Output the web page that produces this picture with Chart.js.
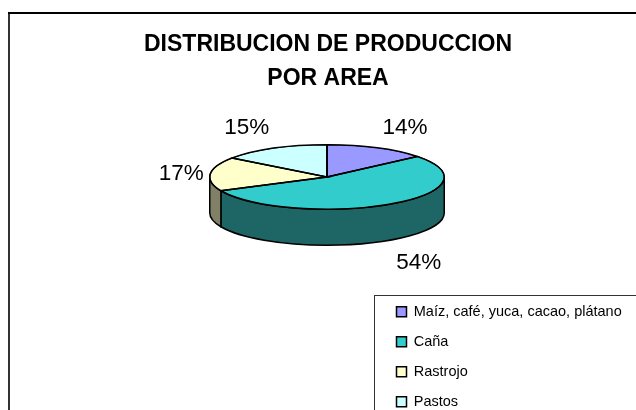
<!DOCTYPE html>
<html>
<head>
<meta charset="utf-8">
<style>
html, body { margin: 0; padding: 0; background: #fff; overflow: hidden; }
canvas { display: block; }
</style>
<script src="https://cdn.jsdelivr.net/npm/chart.js@4"></script>
</head>
<body>
<canvas id="pieChart" width="636" height="410"></canvas>
<script>
const categories = ['Maíz, café, yuca, cacao, plátano', 'Caña', 'Rastrojo', 'Pastos'];
const shares = [14, 54, 17, 15];
const topColors = ['#9999ff', '#33cccc', '#ffffcc', '#ccffff'];
const wallColors = ['#4d4d80', '#1e6666', '#808066', '#668080'];
const titleLines = ['DISTRIBUCION DE PRODUCCION', 'POR AREA'];

// layout of the picture
const squash = 0.275;
const depth = 36;
const centerY = 177;
const labelOffsets = [[28, -20], [29, 59], [-29, 0], [-27, -20]];

// Draws the pie flattened, with a side wall, then the frame and percent labels
const pie3d = {
    id: 'pie3d',
    beforeDatasetsDraw(chart) {
        const ctx = chart.ctx;
        const arcs = chart.getDatasetMeta(0).data;

        // frame, open on the right
        ctx.save();
        ctx.fillStyle = '#333';
        ctx.fillRect(8, 12, 2, 398);
        ctx.fillStyle = '#000';
        ctx.fillRect(8, 12, 628, 2);
        ctx.restore();

        // side wall, only the front half of the ellipse
        ctx.save();
        ctx.translate(0, centerY);
        arcs.forEach((arc, i) => {
            const start = Math.max(arc.startAngle, 0);
            const end = Math.min(arc.endAngle, Math.PI);
            if (end <= start) return;
            ctx.beginPath();
            ctx.ellipse(arc.x, depth, arc.outerRadius, arc.outerRadius * squash, 0, start, end);
            ctx.ellipse(arc.x, 0, arc.outerRadius, arc.outerRadius * squash, 0, end, start, true);
            ctx.closePath();
            ctx.fillStyle = wallColors[i];
            ctx.fill();
            ctx.strokeStyle = '#000';
            ctx.lineWidth = 1.5;
            ctx.stroke();
        });
        ctx.restore();

        ctx.save();
        ctx.translate(0, centerY);
        ctx.scale(1, squash);
        ctx.translate(0, -arcs[0].y);
    },
    afterDatasetsDraw(chart) {
        const ctx = chart.ctx;
        const arcs = chart.getDatasetMeta(0).data;

        // outlines again, path squashed but the pen not
        arcs.forEach(arc => {
            ctx.beginPath();
            ctx.moveTo(arc.x, arc.y);
            ctx.arc(arc.x, arc.y, arc.outerRadius, arc.startAngle, arc.endAngle);
            ctx.closePath();
            ctx.save();
            ctx.setTransform(1, 0, 0, 1, 0, 0);
            ctx.strokeStyle = '#000';
            ctx.lineWidth = 1.5;
            ctx.stroke();
            ctx.restore();
        });
        ctx.restore();

        ctx.save();
        ctx.font = '22.5px "Liberation Sans"';
        ctx.fillStyle = '#000';
        ctx.textAlign = 'center';
        ctx.textBaseline = 'middle';
        arcs.forEach((arc, i) => {
            const mid = (arc.startAngle + arc.endAngle) / 2;
            const x = arc.x + Math.cos(mid) * arc.outerRadius;
            const y = centerY + Math.sin(mid) * arc.outerRadius * squash;
            ctx.fillText(shares[i] + '%', x + labelOffsets[i][0], y + labelOffsets[i][1]);
        });
        ctx.restore();
    },
    afterDraw(chart) {
        // legend frame runs off the picture
        const ctx = chart.ctx;
        ctx.save();
        ctx.strokeStyle = '#333';
        ctx.lineWidth = 1;
        ctx.strokeRect(374.5, 295.5, 300, 200);
        ctx.restore();
    },
    afterLayout(chart) {
        // title is centred over the pie but wider than the padded area
        chart.titleBlock.left = 0;
        chart.titleBlock.right = 656;

        // legend hangs off the bottom right corner
        const legend = chart.legend;
        legend.left = 381;
        legend.right = 700;
        legend.top = 289;
        legend.bottom = 530;
    }
};

new Chart(document.getElementById('pieChart').getContext('2d'), {
    type: 'pie',
    data: {
        labels: categories,
        datasets: [{
            data: shares,
            backgroundColor: topColors,
            borderColor: '#000',
            borderWidth: 1.5
        }]
    },
    options: {
        responsive: false,
        animation: false,
        layout: { padding: { left: 209, right: 191, top: 0, bottom: 78 } },
        plugins: {
            tooltip: { enabled: false },
            title: {
                display: true,
                text: titleLines,
                color: '#000',
                font: { family: '"Liberation Sans"', size: 23, weight: 'bold', lineHeight: 1.47 },
                padding: { top: 28, bottom: 0 }
            },
            legend: {
                position: 'chartArea',
                align: 'start',
                labels: {
                    color: '#000',
                    font: { family: '"Liberation Sans"', size: 14.5 },
                    boxWidth: 10,
                    boxHeight: 10,
                    padding: 15.5
                }
            }
        }
    },
    plugins: [pie3d]
});
</script>
</body>
</html>
